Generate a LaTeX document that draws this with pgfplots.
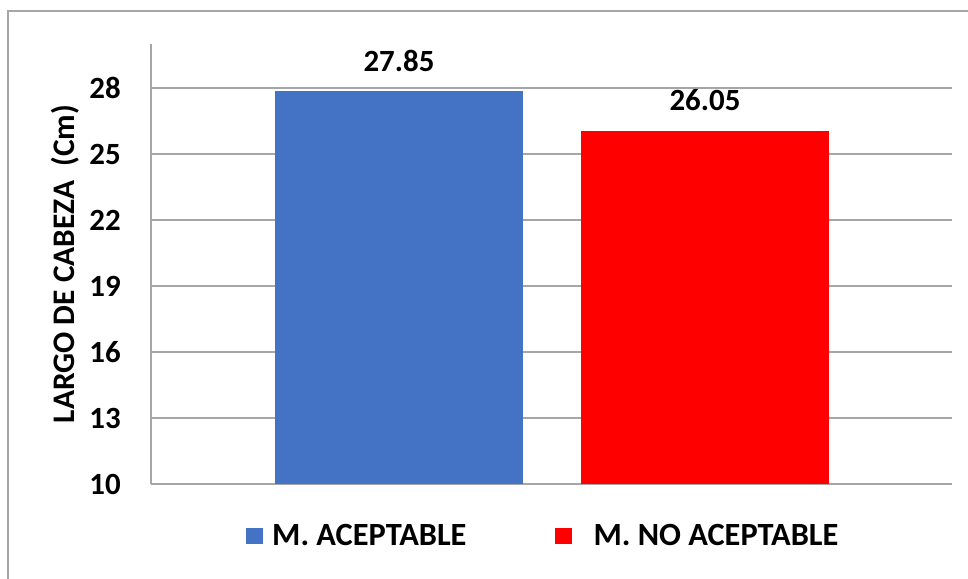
\documentclass[border=0pt]{standalone}
\usepackage{fontspec}
\setmainfont{Carlito}
\usepackage{pgfplots}
\pgfplotsset{compat=1.18}
\definecolor{barblue}{HTML}{4472C4}
\definecolor{barred}{HTML}{FF0000}
\definecolor{gridgray}{HTML}{A6A6A6}
\newcommand{\chartfont}{\fontsize{31}{37}\selectfont\bfseries}
\begin{document}
\begin{tikzpicture}[x=1bp,y=1bp]
\path[use as bounding box] (0,0) rectangle (968,579);
\clip (0,0) rectangle (968,579);
% outer chart frame
\draw[gridgray, line width=1.3bp] (8,-5) -- (8,568) -- (975,568);
\begin{axis}[
  at={(151bp,95bp)}, anchor=south west,
  scale only axis, width=801bp, height=440bp,
  xmin=0, xmax=801, ymin=10, ymax=30,
  axis x line*=bottom, axis y line*=left,
  axis line style={gridgray, line width=1.3bp, -},
  xtick=\empty, ytick={10,13,16,19,22,25,28},
  ymajorgrids, grid style={gridgray, line width=1.3bp},
  major tick length=0pt,
  /pgf/number format/assume math mode=true,
  tick label style={font=\chartfont},
  yticklabel style={inner sep=0pt, anchor=east, xshift=-30bp},
  ylabel={LARGO DE CABEZA~~(Cm)},
  ylabel style={font=\fontsize{31.5}{37}\selectfont\bfseries, at={(axis description cs:-0.107,0.5)}, anchor=center, inner sep=0pt},
  legend style={draw=none, fill=none, inner sep=0pt, at={(axis description cs:0.1186,-0.118)}, anchor=west,
    font=\fontsize{32.5}{38}\selectfont\bfseries, nodes={inner sep=0pt, anchor=base west}, column sep=9bp,
    /tikz/every even column/.append style={column sep=88bp}},
  legend columns=2,
  legend image code/.code={\fill[#1] (0bp,1.5bp) rectangle (17bp,18bp);},
  every node near coord/.append style={font=\chartfont, anchor=base, inner sep=0pt, yshift=20bp},
]
\addplot[ybar, bar width=248, bar shift=0pt, fill=barblue, draw=none, nodes near coords] coordinates {(248,27.85)};
\addlegendentry{M. ACEPTABLE}
\addplot[ybar, bar width=248, bar shift=0pt, fill=barred, draw=none, nodes near coords] coordinates {(554,26.05)};
\addlegendentry{\hspace{13bp}M. NO ACEPTABLE}
\end{axis}
\end{tikzpicture}
\end{document}
